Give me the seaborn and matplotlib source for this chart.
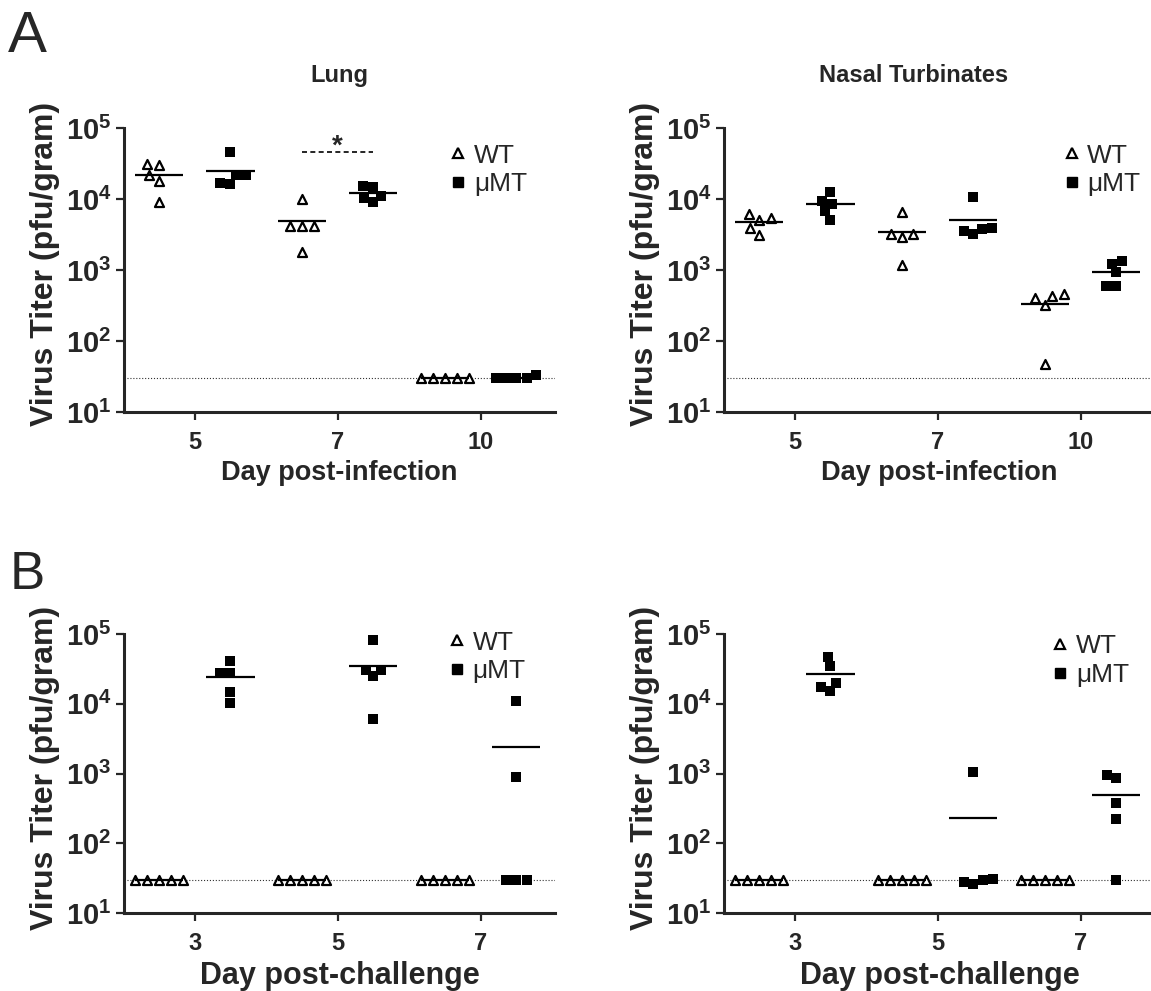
import pandas as pd
import matplotlib
matplotlib.use("Agg")
import matplotlib.pyplot as plt
import seaborn as sns
from matplotlib.lines import Line2D
from matplotlib.ticker import NullLocator

groups = ["WT", "μMT"]
days_infection = ["5", "7", "10"]
days_challenge = ["3", "5", "7"]
lod = 30  # limit of detection (pfu/gram)

# primary infection, one list per day (5 mice each)
lung_wt = [[21500, 29700, 31100, 17700, 8950], [10100, 4100, 4100, 4100, 1770], [30, 30, 30, 30, 30]]
lung_mt = [[45900, 21500, 21500, 16400, 16800], [15400, 14800, 11200, 9200, 10300], [30, 30, 33, 30, 30]]
nasal_wt = [[5400, 5100, 6150, 3140, 3910], [6470, 3250, 2920, 3250, 1160], [460, 400, 324, 434, 47]]
nasal_mt = [[9250, 8600, 12400, 5100, 6700], [10700, 3800, 3250, 3900, 3500], [1230, 1350, 925, 588, 588]]

# challenge
chal_lung_wt = [[30, 30, 30, 30, 30], [30, 30, 30, 30, 30], [30, 30, 30, 30, 30]]
chal_lung_mt = [[27600, 27600, 40500, 14700, 10300], [80900, 30800, 30800, 24700, 6040], [11100, 890, 30, 30, 30]]
chal_nasal_wt = [[30, 30, 30, 30, 30], [30, 30, 30, 30, 30], [30, 30, 30, 30, 30]]
chal_nasal_mt = [[46800, 34400, 19800, 15000, 17400], [1050, 30, 26, 31, 28], [940, 860, 378, 225, 30]]

sig_titer = 45900  # level of the * bar in lung day 7


def long_form(days, wt, mt):
    rows = []
    for d, w, m in zip(days, wt, mt):
        rows += [(d, "WT", f"{d}-WT", v) for v in w]
        rows += [(d, "μMT", f"{d}-μMT", v) for v in m]
    return pd.DataFrame(rows, columns=["day", "group", "slot", "titer"])


sns.set_style("ticks")
plt.rcParams["font.family"] = ["Liberation Sans", "DejaVu Sans"]
plt.rcParams["mathtext.fontset"] = "custom"
plt.rcParams["mathtext.bf"] = "Liberation Sans:bold"
plt.rcParams["mathtext.rm"] = "Liberation Sans"

W, H = 1151, 991
fig = plt.figure(figsize=(W / 100, H / 100), dpi=100)


def px_axes(left, top, right, bottom):
    return fig.add_axes([left / W, 1 - bottom / H, (right - left) / W, (bottom - top) / H])


def panel(ax, df, days, title, title_x, xlabel, xlabel_size, leg_xy, sig=False):
    order = [f"{d}-{g}" for d in days for g in groups]
    ax.set_yscale("log")
    sns.swarmplot(data=df[df.group == "WT"], x="slot", y="titer", order=order,
                  color="white", marker="^", size=6.5, edgecolor="black",
                  linewidth=1.6, ax=ax, zorder=2)
    sns.swarmplot(data=df[df.group == "μMT"], x="slot", y="titer", order=order,
                  color="black", marker="s", size=7.0, linewidth=0, ax=ax, zorder=2)

    means = df.groupby("slot")["titer"].mean()
    for i, s in enumerate(order):
        ax.hlines(means[s], i - 0.336, i + 0.336, color="black", lw=1.6, zorder=3)

    ax.axhline(lod, color="#333333", ls=":", lw=0.8, zorder=1)

    if sig:
        i = order.index("7-WT")
        ax.plot([i, i + 1], [sig_titer, sig_titer], color="black", lw=1.2, ls=(0, (3, 2)))
        ax.text(i + 0.5, sig_titer * 0.95, "*", ha="center", va="baseline",
                fontsize=20, fontweight="bold")

    ax.set_ylim(10, 1e5)
    ax.yaxis.set_minor_locator(NullLocator())
    ax.set_yticks([10, 100, 1000, 1e4, 1e5],
                  [r"10$^{\mathbf{%d}}$" % k for k in range(1, 6)],
                  fontsize=21, fontweight="bold")
    ax.set_xticks([0.5, 2.5, 4.5], days, fontsize=17, fontweight="bold")
    ax.set_xlim(-0.49, 5.54)
    ax.tick_params(width=1.6, length=6)
    ax.tick_params(axis="x", pad=8)
    ax.tick_params(axis="y", pad=3)

    ax.set_ylabel("Virus Titer (pfu/gram)", fontsize=23, fontweight="bold")
    ax.yaxis.set_label_coords(-0.148, 0.52)
    ax.set_xlabel(xlabel, fontsize=xlabel_size, fontweight="bold", labelpad=4)
    if title:
        ax.set_title(title, fontsize=17, fontweight="bold", pad=33, x=title_x)

    sns.despine(ax=ax)
    for side in ["left", "bottom"]:
        ax.spines[side].set_linewidth(2.2)

    handles = [
        Line2D([], [], ls="", marker="^", markersize=6.5, markerfacecolor="white",
               markeredgecolor="black", markeredgewidth=1.6),
        Line2D([], [], ls="", marker="s", markersize=7.0, color="black"),
    ]
    ax.legend(handles, groups, loc="upper left", bbox_to_anchor=leg_xy, frameon=False,
              fontsize=19, handlelength=0.6, handletextpad=0.3, labelspacing=0.18,
              borderpad=0, borderaxespad=0)


ax1 = px_axes(124, 128, 555, 412)
ax2 = px_axes(724, 128, 1155, 412)
ax3 = px_axes(124, 634, 555, 913)
ax4 = px_axes(724, 634, 1155, 913)

panel(ax1, long_form(days_infection, lung_wt, lung_mt), days_infection,
      "Lung", 0.5, "Day post-infection", 19.5, (0.757, 0.945), sig=True)
panel(ax2, long_form(days_infection, nasal_wt, nasal_mt), days_infection,
      "Nasal Turbinates", 0.44, "Day post-infection", 19.5, (0.788, 0.945))
panel(ax3, long_form(days_challenge, chal_lung_wt, chal_lung_mt), days_challenge,
      None, 0.5, "Day post-challenge", 22, (0.754, 1.012))
panel(ax4, long_form(days_challenge, chal_nasal_wt, chal_nasal_mt), days_challenge,
      None, 0.5, "Day post-challenge", 22, (0.762, 1.0))

fig.text(8 / W, 1 - 52 / H, "A", fontsize=42)
fig.text(10 / W, 1 - 589 / H, "B", fontsize=38)

fig.savefig("out.png", dpi=100)
